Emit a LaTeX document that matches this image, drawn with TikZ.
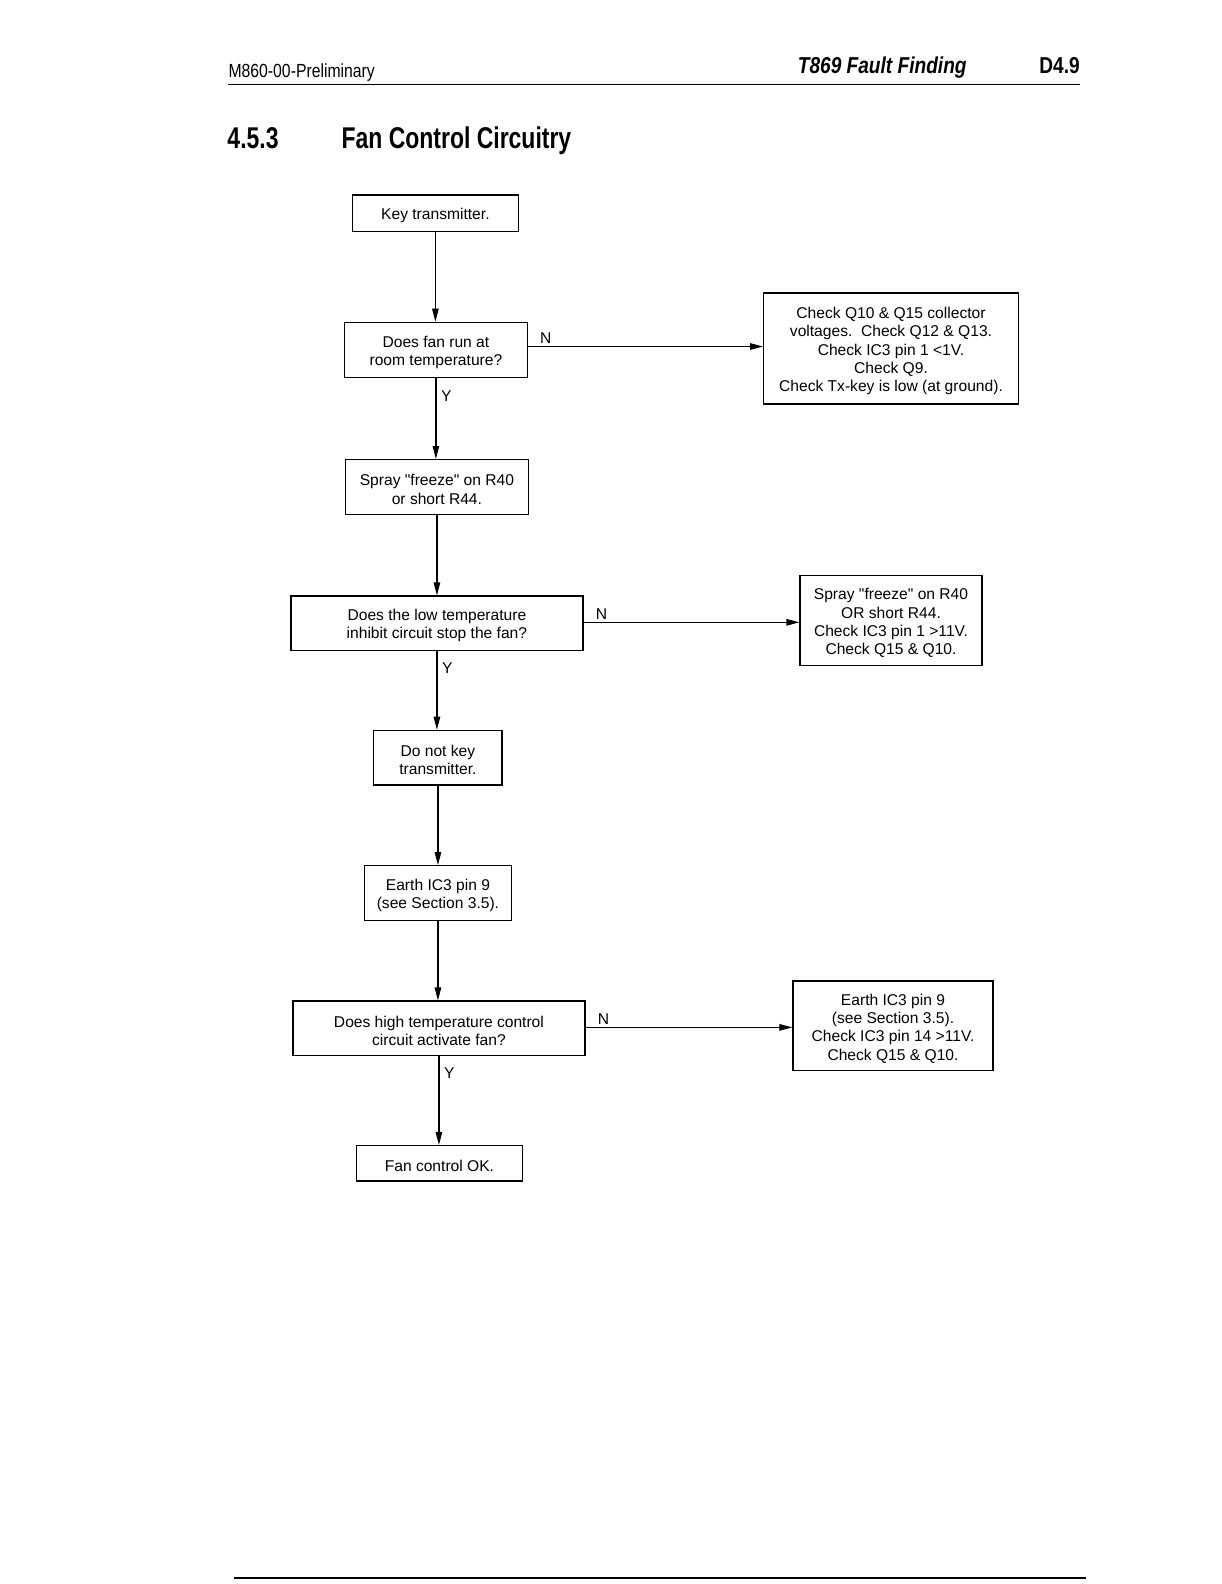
\documentclass[tikz,border=0pt]{standalone}
\usepackage{fontspec}
\setmainfont{Liberation Sans}[Ligatures=TeXOff]
\newfontfamily\narrowfont[FakeStretch=0.83]{Liberation Sans}
\newfontfamily\titlefont[FakeStretch=0.765]{Liberation Sans}
\usetikzlibrary{arrows.meta}
\begin{document}
\begin{tikzpicture}[x=1.0099pt,y=-1.0099pt,
  box/.style={draw, line width=1.3pt, inner sep=0pt},
  txt/.style={align=center, inner sep=0pt, yshift=-2.5pt, font=\fontsize{15.6}{18.3}\selectfont},
  lbl/.style={inner sep=0pt, font=\fontsize{15.6}{18.3}\selectfont},
  arr/.style={line width=1.2pt, -{Triangle[length=13pt,width=6.5pt]}},
  rule/.style={line width=1.1pt}
  ]
\useasboundingbox[fill=white] (0,0) rectangle (1209,1568);
% header
\node[anchor=base west, inner sep=0pt, font=\narrowfont\fontsize{19}{22}\selectfont] (hl) at (226,77) {M860-00-Preliminary};
\node[anchor=base east, inner sep=0pt, font=\narrowfont\fontsize{23}{26}\selectfont\bfseries\itshape] (hc) at (957,73) {T869 Fault Finding};
\node[anchor=base east, inner sep=0pt, font=\narrowfont\fontsize{23}{26}\selectfont\bfseries] (hr) at (1069,73) {D4.9};
\coordinate (hrL) at (226,84);
\coordinate (hrR) at (1069,84);
\draw[rule] (hrL) -- (hrR);
% title
\node[anchor=base west, inner sep=0pt, font=\titlefont\fontsize{30}{34}\selectfont\bfseries] (tn) at (225,147) {4.5.3};
\node[anchor=base west, inner sep=0pt, font=\titlefont\fontsize{30}{34}\selectfont\bfseries] (tt) at (338,147) {Fan Control Circuitry};
% boxes
\node[box, minimum width=165.6pt, minimum height=36.4pt] (b1) at (431,211) {};
\node[txt] (b1t) at (b1.center) {Key transmitter.};
\node[box, minimum width=182.8pt, minimum height=55.5pt] (b2) at (431.5,346.5) {};
\node[txt] (b2t) at (b2.center) {Does fan run at\\room temperature?};
\node[box, minimum width=254.5pt, minimum height=111.1pt] (r1) at (882,345) {};
\node[txt] (r1t) at (r1.center) {Check Q10 \& Q15 collector\\voltages.\ \ Check Q12 \& Q13.\\Check IC3 pin 1 <1V.\\Check Q9.\\Check Tx-key is low (at ground).};
\node[box, minimum width=182.8pt, minimum height=54.5pt] (b3) at (432.5,482) {};
\node[txt] (b3t) at (b3.center) {Spray "freeze" on R40\\or short R44.};
\node[box, minimum width=291.9pt, minimum height=54.5pt] (b4) at (432.5,617) {};
\node[txt] (b4t) at (b4.center) {Does the low temperature\\inhibit circuit stop the fan?};
\node[box, minimum width=181.8pt, minimum height=89.9pt] (r2) at (882,614.5) {};
\node[txt] (r2t) at (r2.center) {Spray "freeze" on R40\\OR short R44.\\Check IC3 pin 1 >11V.\\Check Q15 \& Q10.};
\node[box, minimum width=128.3pt, minimum height=54.5pt] (b5) at (433.5,750) {};
\node[txt] (b5t) at (b5.center) {Do not key\\transmitter.};
\node[box, minimum width=146.4pt, minimum height=54.5pt] (b6) at (433.5,884) {};
\node[txt] (b6t) at (b6.center) {Earth IC3 pin 9\\(see Section 3.5).};
\node[box, minimum width=291.9pt, minimum height=54.5pt] (b7) at (434.5,1018) {};
\node[txt] (b7t) at (b7.center) {Does high temperature control\\circuit activate fan?};
\node[box, minimum width=200pt, minimum height=89.9pt] (r3) at (884,1015.5) {};
\node[txt] (r3t) at (r3.center) {Earth IC3 pin 9\\(see Section 3.5).\\Check IC3 pin 14 >11V.\\Check Q15 \& Q10.};
\node[box, minimum width=165.6pt, minimum height=35.3pt] (b8) at (435,1151.5) {};
\node[txt] (b8t) at (b8.center) {Fan control OK.};
% vertical arrows
\draw[arr] (b1.south) -- (b1.south |- b2.north);
\draw[arr] (b2.south) -- (b2.south |- b3.north);
\draw[arr] (b3.south) -- (b3.south |- b4.north);
\draw[arr] (b4.south) -- (b4.south |- b5.north);
\draw[arr] (b5.south) -- (b5.south |- b6.north);
\draw[arr] (b6.south) -- (b6.south |- b7.north);
\draw[arr] (b7.south) -- (b7.south |- b8.north);
% horizontal arrows
\draw[arr] ([yshift=3.5pt]b2.east) -- ([yshift=3.5pt]b2.east -| r1.west);
\draw[arr] ([yshift=1pt]b4.east) -- ([yshift=1pt]b4.east -| r2.west);
\draw[arr] ([yshift=1pt]b7.east) -- ([yshift=1pt]b7.east -| r3.west);
% labels
\node[lbl, anchor=south west] (n1) at ([xshift=12pt,yshift=6pt]b2.east) {N};
\node[lbl, anchor=south west] (n2) at ([xshift=12pt,yshift=3.5pt]b4.east) {N};
\node[lbl, anchor=south west] (n3) at ([xshift=12pt,yshift=4pt]b7.east) {N};
\node[lbl, anchor=north west] (y1) at ([xshift=5pt,yshift=-12pt]b2.south) {Y};
\node[lbl, anchor=north west] (y2) at ([xshift=5pt,yshift=-11pt]b4.south) {Y};
\node[lbl, anchor=north west] (y3) at ([xshift=5pt,yshift=-11pt]b7.south) {Y};
% footer rule
\coordinate (frL) at (232,1562);
\coordinate (frR) at (1075,1562);
\draw[rule] (frL) -- (frR);
\end{tikzpicture}
\end{document}
